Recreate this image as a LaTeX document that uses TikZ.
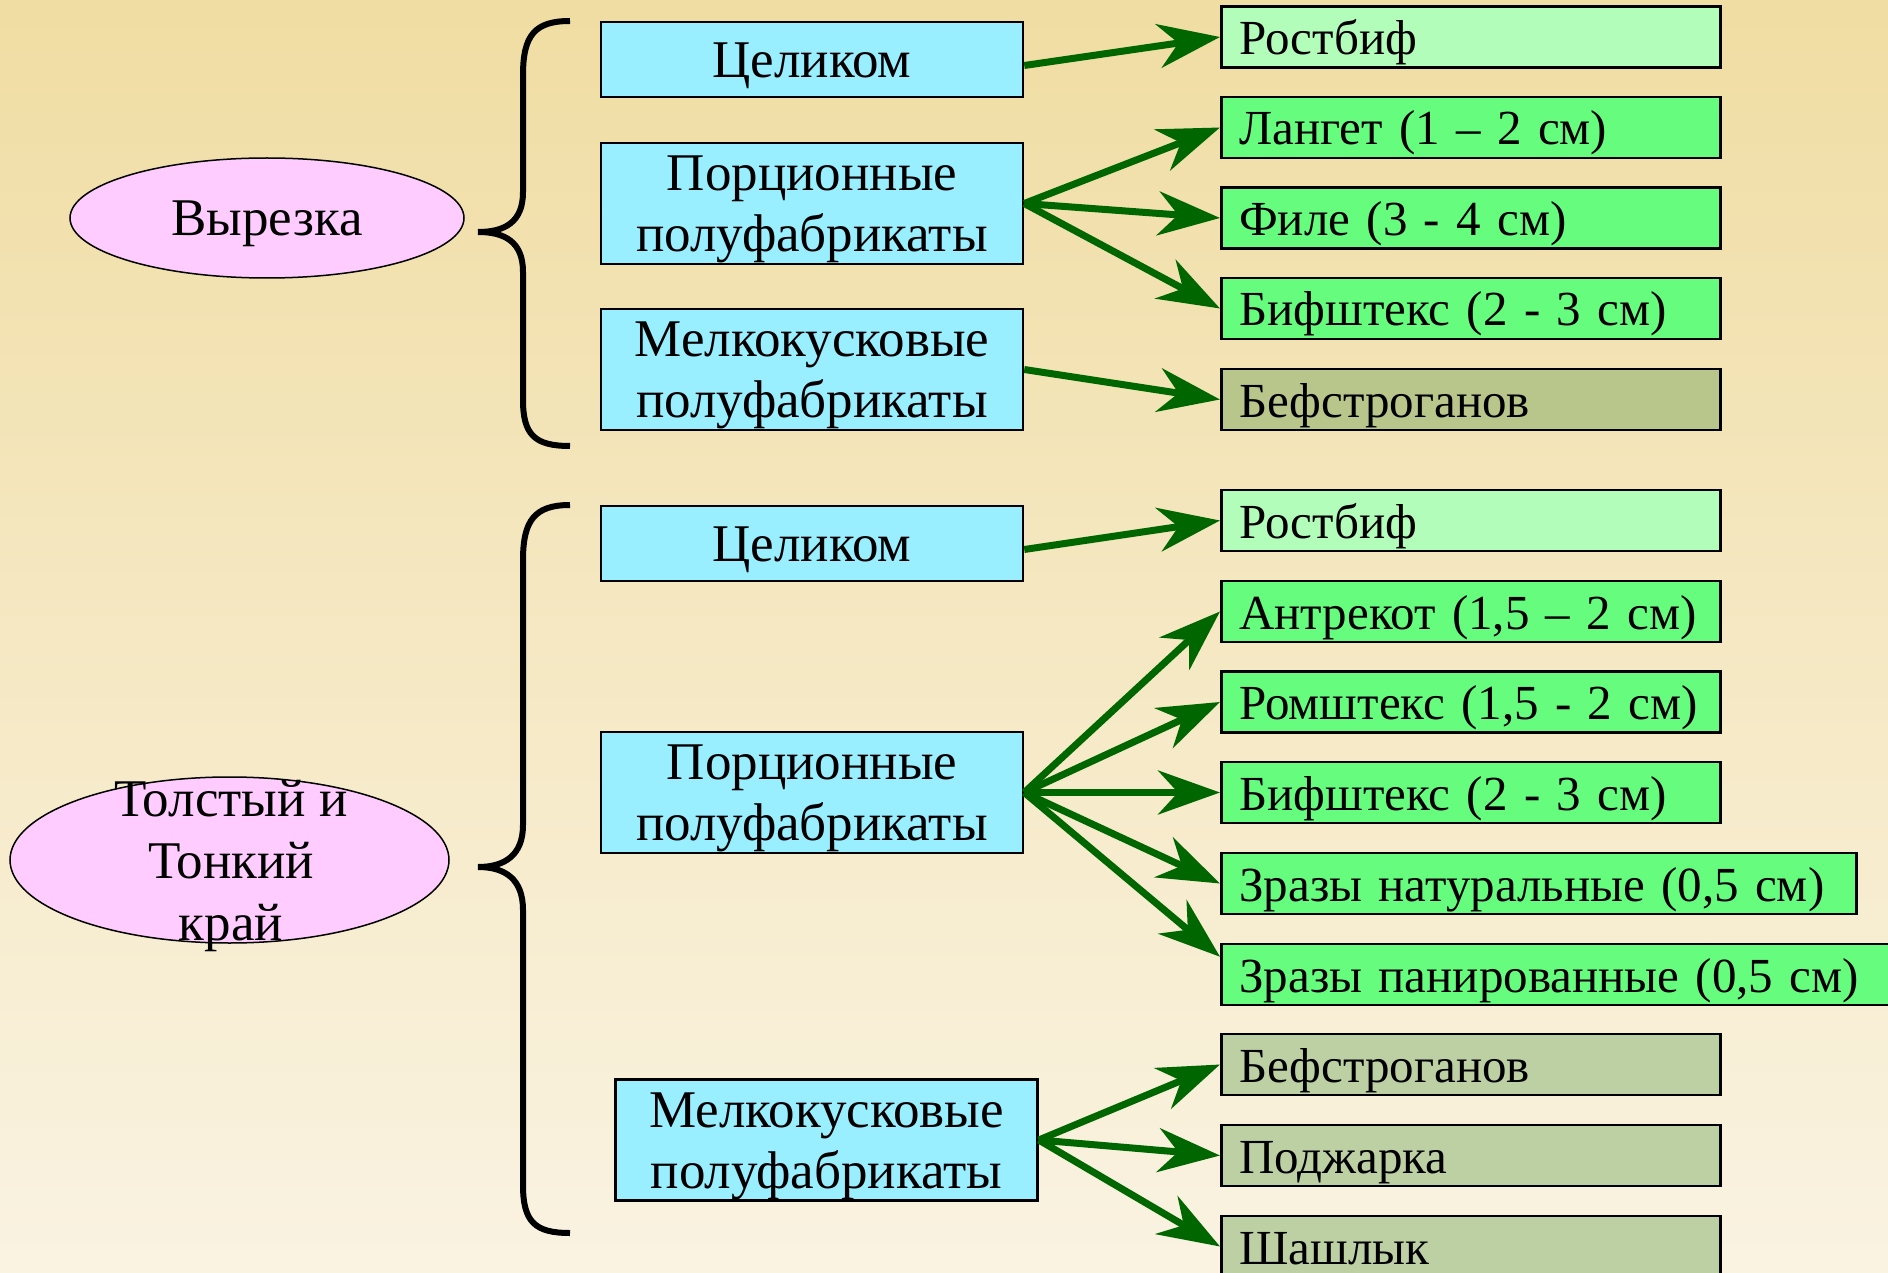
\documentclass[tikz,border=0pt]{standalone}
\usepackage{fontspec}
\setmainfont{Liberation Serif}
\usetikzlibrary{shapes.geometric,arrows.meta,calc}
\definecolor{bgtop}{HTML}{F0DDA3}
\definecolor{bgbot}{HTML}{FAF3E2}
\definecolor{cyanbox}{HTML}{99EEFF}
\definecolor{pinkell}{HTML}{FFCCFF}
\definecolor{rostc}{HTML}{B3FDBB}
\definecolor{greenc}{HTML}{66FC7E}
\definecolor{befa}{HTML}{B8C68C}
\definecolor{befb}{HTML}{BDD0A3}
\definecolor{arrc}{HTML}{006600}
\begin{document}
\begin{tikzpicture}[x=1pt,y=-1pt,
  lbox/.style={draw=black, line width=2.5pt, fill=cyanbox, minimum width=422pt, inner sep=0pt, align=center, font=\fontsize{53}{61}\selectfont, text depth=0pt},
  lone/.style={lbox, minimum height=75pt, text height=36pt},
  ltwo/.style={lbox, minimum height=121pt, text height=96pt},
  rbox/.style={draw=black, line width=2.5pt, anchor=west, minimum height=61pt, inner xsep=18pt, inner ysep=0pt, text width=463pt, align=left, font=\fontsize{49}{58}\selectfont, text height=35pt, text depth=0pt},
  ell/.style={ellipse, draw=black, line width=1.5pt, fill=pinkell, inner sep=0pt},
  arr/.style={draw=arrc, line width=7pt, -{Stealth[length=62pt,width=44pt,inset=20pt]}},
  bracepath/.style={draw=black, line width=6pt}]
\useasboundingbox (0,0) rectangle (1888,1273);
\shade[top color=bgtop,bottom color=bgbot] (0,0) rectangle (1888,1273);

% left ellipses
\node[ell, minimum width=394pt, minimum height=120pt, font=\fontsize{53}{61}\selectfont, text height=35pt, text depth=0pt] (e1) at (267,218) {Вырезка};
\node[ell, minimum width=439pt, minimum height=166pt] (e2) at (229.5,860) {};
\node[align=center, inner sep=0pt, font=\fontsize{53}{62}\selectfont, text height=159pt, text depth=0pt] (t2) at (231,861) {Толстый и\\Тонкий\\край};

% braces
\draw[bracepath] (570,21) .. controls (535,21) and (523,35) .. (523,75) -- (523,192)
  .. controls (523,222) and (505,232) .. (478,232)
  .. controls (505,232) and (523,242) .. (523,272) -- (523,400)
  .. controls (523,435) and (535,446) .. (570,446);
\draw[bracepath] (570,505) .. controls (535,505) and (523,520) .. (523,560) -- (523,825)
  .. controls (523,855) and (505,867) .. (478,867)
  .. controls (505,867) and (523,879) .. (523,910) -- (523,1185)
  .. controls (523,1222) and (535,1233) .. (570,1233);

% middle boxes
\node[lone] (c1) at (812,59.5) {Целиком};
\node[ltwo] (p1) at (812,203.5) {Порционные\\полуфабрикаты};
\node[ltwo] (m1) at (812,369.5) {Мелкокусковые\\полуфабрикаты};
\node[lone] (c2) at (812,543.5) {Целиком};
\node[ltwo] (p2) at (812,792.5) {Порционные\\полуфабрикаты};
\node[ltwo] (m2) at (826.5,1140) {Мелкокусковые\\полуфабрикаты};

% right boxes
\node[rbox, fill=rostc] (r1) at (1220,37) {\mbox{Ростбиф}};
\node[rbox, fill=greenc] (l1) at (1220,127.5) {\mbox{Лангет (1 – 2 см)}};
\node[rbox, fill=greenc] (f1) at (1220,218) {\mbox{Филе (3 - 4 см)}};
\node[rbox, fill=greenc] (b1) at (1220,308.5) {\mbox{Бифштекс (2 - 3 см)}};
\node[rbox, fill=befa] (s1) at (1220,399.5) {\mbox{Бефстроганов}};
\node[rbox, fill=rostc] (r2) at (1220,520.5) {\mbox{Ростбиф}};
\node[rbox, fill=greenc] (a2) at (1220,611.5) {\mbox{Антрекот (1,5 – 2 см)}};
\node[rbox, fill=greenc] (rm2) at (1220,702) {\mbox{Ромштекс (1,5 - 2 см)}};
\node[rbox, fill=greenc] (b2) at (1220,792.5) {\mbox{Бифштекс (2 - 3 см)}};
\node[rbox, fill=greenc, text width=599pt] (zn2) at (1220,883.5) {\mbox{Зразы натуральные (0,5 см)}};
\node[rbox, fill=greenc, text width=700pt] (zp2) at (1220,974.5) {\mbox{Зразы панированные (0,5 см)}};
\node[rbox, fill=befb] (s2) at (1220,1064.5) {\mbox{Бефстроганов}};
\node[rbox, fill=befb] (pj2) at (1220,1155.5) {\mbox{Поджарка}};
\node[rbox, fill=befb] (sh2) at (1220,1246.5) {\mbox{Шашлык}};

% arrows
\draw[arr] ($(c1.east)+(0,6)$) -- (r1.west);
\draw[arr] (p1.east) -- (l1.west);
\draw[arr] (p1.east) -- (f1.west);
\draw[arr] (p1.east) -- (b1.west);
\draw[arr] (m1.east) -- (s1.west);
\draw[arr] ($(c2.east)+(0,6)$) -- (r2.west);
\draw[arr] (p2.east) -- (a2.west);
\draw[arr] (p2.east) -- (rm2.west);
\draw[arr] (p2.east) -- (b2.west);
\draw[arr] (p2.east) -- (zn2.west);
\draw[arr] (p2.east) -- ($(zp2.north west)+(0,14)$);
\draw[arr] (m2.east) -- (s2.west);
\draw[arr] (m2.east) -- (pj2.west);
\draw[arr] (m2.east) -- (sh2.west);
\end{tikzpicture}
\end{document}
